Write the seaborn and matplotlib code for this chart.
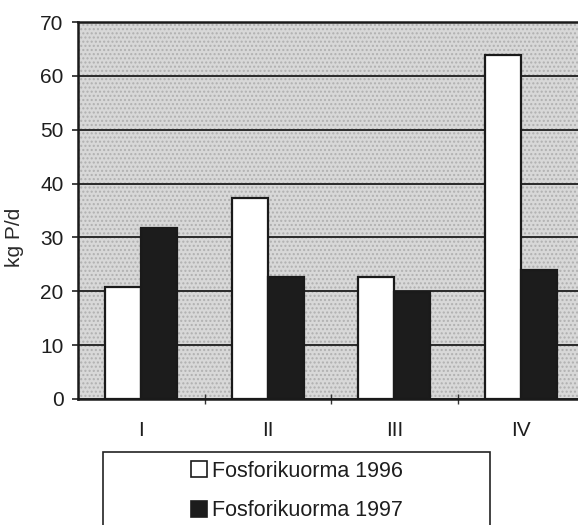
import matplotlib
matplotlib.use("Agg")
import matplotlib.pyplot as plt
from matplotlib.patches import Patch, Rectangle
import numpy as np
import pandas as pd
import seaborn as sns

# Data: phosphorus load per sub-area
areas = ["I", "II", "III", "IV"]
load_1996 = [20.8, 37.3, 22.7, 63.9]
load_1997 = [31.7, 22.6, 19.9, 24.0]
series_labels = ["Fosforikuorma 1996", "Fosforikuorma 1997"]
y_ticks = [0, 10, 20, 30, 40, 50, 60, 70]

df = pd.DataFrame({
    "alue": areas * 2,
    "kuorma": load_1996 + load_1997,
    "sarja": [series_labels[0]] * len(areas) + [series_labels[1]] * len(areas),
})

sns.set_style("white")
plt.rcParams["font.family"] = ["Liberation Sans", "DejaVu Sans"]

W, H = 578, 525
fig = plt.figure(figsize=(W / 100, H / 100), dpi=100)
ax = fig.add_axes([78 / W, 1 - 399 / H, (584 - 78) / W, (399 - 22) / H])

bar_colors = {series_labels[0]: "white", series_labels[1]: "#1c1c1c"}
sns.barplot(data=df, x="alue", y="kuorma", hue="sarja", palette=bar_colors,
            order=areas, hue_order=series_labels, width=0.57, gap=0,
            edgecolor="#1a1a1a", linewidth=1.6, saturation=1, ax=ax,
            legend=False, err_kws={"linewidth": 0})

# dotted grey background
ax.patch.set_facecolor("#d8d8d8")
ax.patch.set_edgecolor("#b0b0b0")
ax.patch.set_hatch("....")
ax.patch.set_linewidth(0)

ax.set_ylim(0, 70)
ax.set_xlim(-0.5, 3.5)
ax.set_yticks(y_ticks)
ax.yaxis.grid(True, color="#2a2a2a", linewidth=1.4)
ax.xaxis.grid(False)
ax.set_axisbelow(True)

ax.set_xlabel("")
ax.set_ylabel("")
ax.tick_params(axis="y", which="major", direction="out", length=4.5, width=1.2,
               color="#222222", labelsize=15, pad=6, left=True,
               labelcolor="#1e1e1e")
ax.tick_params(axis="x", which="major", length=0, labelsize=15, pad=16,
               labelcolor="#1e1e1e")
ax.set_xticks(np.arange(0.5, 3.5, 1.0), minor=True)
ax.tick_params(axis="x", which="minor", direction="inout", length=7, width=1.0,
               color="#333333", bottom=True)

for side in ["left", "bottom", "top", "right"]:
    ax.spines[side].set_color("#1a1a1a")
    ax.spines[side].set_linewidth(1.8)

fig.text(15 / W, 1 - 237 / H, "kg P/d", rotation=90, ha="center", va="center",
         fontsize=15, color="#2a2a2a")

handles = [Patch(facecolor="white", edgecolor="#1a1a1a", linewidth=1.2),
           Patch(facecolor="#1c1c1c", edgecolor="#1c1c1c", linewidth=1.2)]
ax.legend(handles, series_labels, loc="center",
          bbox_to_anchor=(297 / W, 1 - 491 / H), bbox_transform=fig.transFigure,
          frameon=False, fontsize=15.5, handlelength=0.75, handleheight=0.75,
          handletextpad=0.25, labelspacing=0.85, labelcolor="#1e1e1e")

fig.add_artist(Rectangle((103 / W, 1 - 545 / H), 387 / W, 93 / H,
                         transform=fig.transFigure, fill=False,
                         edgecolor="#222222", linewidth=1.2, clip_on=False))

fig.savefig("out.png", dpi=100)
